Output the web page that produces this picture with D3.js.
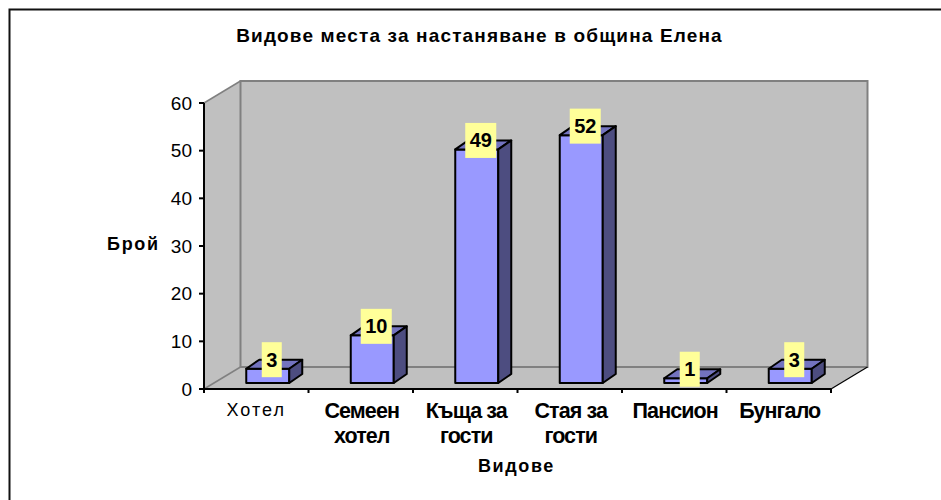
<!DOCTYPE html>
<html><head><meta charset="utf-8">
<script src="https://cdn.jsdelivr.net/npm/d3@7"></script>
<style>html,body{margin:0;background:#fff}svg{display:block}text{font-family:"Liberation Sans",Arial,sans-serif;fill:#000}</style>
</head><body><svg id="c" width="941" height="500"></svg>
<script>
const categories=[["Хотел"],["Семеен","хотел"],["Къща за","гости"],["Стая за","гости"],["Пансион"],["Бунгало"]];
const values=[3,10,49,52,1,3];
const yTicks=[0,10,20,30,40,50,60];
const title="Видове места за настаняване в община Елена";
const xTitle="Видове", yTitle="Брой";

const svg=d3.select("#c");
const x0=204,x1=831,yB=389,yT=103,dx=36.5,dy=-22;
const x=d3.scaleBand().domain(d3.range(categories.length)).range([x0,x1]);
const y=d3.scaleLinear().domain([0,60]).range([yB,yT]);
const P=a=>"M"+a.map(p=>p.join(",")).join("L")+"Z";

svg.append("path").attr("d","M9.5,500V9.5H941").attr("fill","none").attr("stroke","#111").attr("stroke-width",2);

// walls
const wall="#c0c0c0",wallS="#808080";
svg.append("path").attr("d",P([[x0,yT],[x0+dx,yT+dy],[x0+dx,yB+dy],[x0,yB]])).attr("fill",wall);
svg.append("path").attr("d",P([[x0,yB],[x1,yB],[x1+dx,yB+dy],[x0+dx,yB+dy]])).attr("fill",wall);
svg.append("path").attr("d",P([[x0+dx,yT+dy],[x1+dx,yT+dy],[x1+dx,yB+dy],[x0+dx,yB+dy]])).attr("fill",wall)
  .attr("stroke",wallS).attr("stroke-width",2);
svg.append("path").attr("d",`M${x0},${yT}L${x0+dx},${yT+dy}`).attr("stroke",wallS).attr("stroke-width",1.5);
svg.append("path").attr("d",`M${x0},${yB}L${x0+dx},${yB+dy}`).attr("stroke",wallS).attr("stroke-width",1.5);
svg.append("path").attr("d",`M${x1},${yB}L${x1+dx},${yB+dy}`).attr("stroke","#000").attr("stroke-width",1.2);

// bars
const bw=43,bdx=13,bdy=-9,fx=11.5,fy=-6;
const bars=svg.append("g").attr("stroke","#000").attr("stroke-width",2).attr("stroke-linejoin","round");
values.forEach((v,i)=>{
  const l=x(i)+x.bandwidth()/2-bw/2+fx,r=l+bw,b=yB+fy,t=y(v)+fy;
  bars.append("path").attr("d",P([[l,t],[r,t],[r,b],[l,b]])).attr("fill","#9999ff");
  bars.append("path").attr("d",P([[l,t],[l+bdx,t+bdy],[r+bdx,t+bdy],[r,t]])).attr("fill","#7373bf");
  bars.append("path").attr("d",P([[r,t],[r+bdx,t+bdy],[r+bdx,b+bdy],[r,b]])).attr("fill","#4d4d80");
});

// axes
const ax=svg.append("g").attr("stroke","#000").attr("stroke-width",2);
ax.append("line").attr("x1",x0).attr("x2",x0).attr("y1",yT).attr("y2",yB+3);
ax.append("line").attr("x1",x0).attr("x2",x1).attr("y1",yB).attr("y2",yB);
yTicks.forEach(t=>ax.append("line").attr("x1",x0-5).attr("x2",x0).attr("y1",y(t)).attr("y2",y(t)));
d3.range(categories.length+1).forEach(i=>{const X=x0+i*x.step();
  ax.append("line").attr("x1",X).attr("x2",X).attr("y1",yB).attr("y2",yB+4);});
svg.append("g").selectAll("text").data(yTicks).join("text")
  .attr("x",x0-12).attr("y",d=>y(d)+6.5).attr("text-anchor","end").attr("font-size",19).text(d=>d);

// category labels
categories.forEach((c,i)=>{
  const cx=x(i)+x.bandwidth()/2+(i==0?0:1);
  c.forEach((s,k)=>svg.append("text").attr("x",cx).attr("y",417.5+k*25.5-(i==0?2:0)).attr("text-anchor","middle")
    .attr("font-size",i==0?18:21.5).attr("font-weight",i==0?400:700).attr("letter-spacing",i==0?2:-.9).text(s));
});

// data labels
values.forEach((v,i)=>{
  const w=v>=10?31:20,cx=x(i)+x.bandwidth()/2+fx+4,cy=y(v)+fy+bdy;
  svg.append("rect").attr("x",cx-w/2).attr("y",cy-17.5).attr("width",w).attr("height",35).attr("fill","#ffff99");
  svg.append("text").attr("x",cx).attr("y",cy+7).attr("text-anchor","middle").attr("font-size",20).attr("font-weight",700).text(v);
});

svg.append("text").attr("x",479.5).attr("y",42).attr("text-anchor","middle").attr("font-size",19).attr("font-weight",700).attr("letter-spacing",1.15).text(title);
svg.append("text").attr("x",478).attr("y",472).attr("font-size",18).attr("font-weight",700).attr("letter-spacing",1.6).text(xTitle);
svg.append("text").attr("x",107).attr("y",250).attr("font-size",18).attr("font-weight",700).attr("letter-spacing",1.7).text(yTitle);
</script></body></html>
